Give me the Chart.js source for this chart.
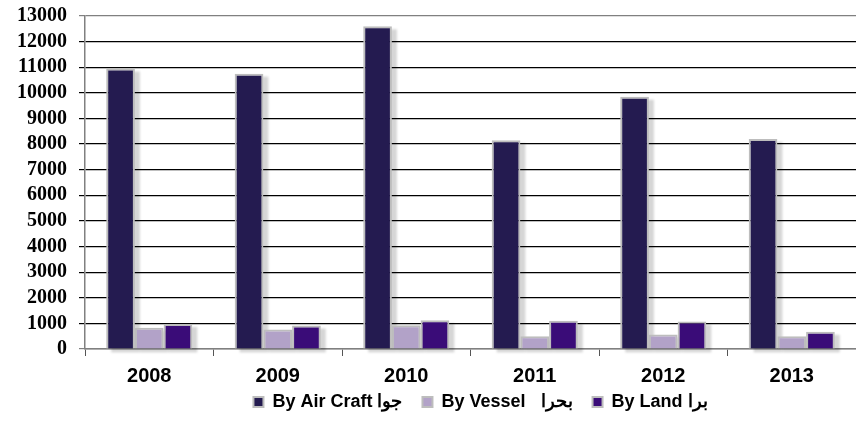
<!DOCTYPE html>
<html>
<head>
<meta charset="utf-8">
<script src="https://cdn.jsdelivr.net/npm/chart.js@4"></script>
<style>
  html, body { margin: 0; padding: 0; background: #fff; }
  #wrap { width: 856px; height: 424px; }
</style>
</head>
<body>
<div id="wrap"><canvas id="travelChart"></canvas></div>
<script>
'use strict';
var years = ['2008', '2009', '2010', '2011', '2012', '2013'];
var byAirCraft = [10950, 10750, 12600, 8150, 9850, 8200];
var byVessel = [830, 760, 930, 500, 570, 500];
var byLand = [980, 920, 1120, 1100, 1075, 670];
var seriesNames = ['By Air Craft جوا', 'By Vessel   بحرا', 'By Land برا'];
var yTicks = [0, 1000, 2000, 3000, 4000, 5000, 6000, 7000, 8000, 9000, 10000, 11000, 12000, 13000];

// soft grey shadow behind every bar, painted before the bars themselves
var barShadow = {
  id: 'barShadow',
  beforeDatasetsDraw: function (chart) {
    var c = chart.ctx;
    c.save();
    c.fillStyle = 'rgba(0,0,0,0.16)';
    c.filter = 'blur(1px)';
    chart.data.datasets.forEach(function (ds, i) {
      chart.getDatasetMeta(i).data.forEach(function (bar) {
        var w = bar.width;
        c.fillRect(bar.x - w / 2 + 5, bar.y + 3, w, bar.base - bar.y + 1);
      });
    });
    c.restore();
  },
  // legend sits roughly centred under the plot area and a bit higher up
  afterLayout: function (chart) {
    var lg = chart.legend;
    var shift = (chart.chartArea.left + chart.chartArea.right) / 2 - (lg.left + lg.right) / 2 + 10;
    lg.left += shift;
    lg.right += shift;
    lg.top -= 9;
    lg.bottom -= 9;
  }
};

var ctx = document.getElementById('travelChart').getContext('2d');
var chart = new Chart(ctx, {
  type: 'bar',
  data: {
    labels: years,
    datasets: [{
      label: seriesNames[0],
      data: byAirCraft,
      backgroundColor: '#241B50',
      borderColor: '#BDBDBD',
      borderWidth: 2
    }, {
      label: seriesNames[1],
      data: byVessel,
      backgroundColor: '#B2A2C8',
      borderColor: '#BDBDBD',
      borderWidth: 2
    }, {
      label: seriesNames[2],
      data: byLand,
      backgroundColor: '#3A0C78',
      borderColor: '#BDBDBD',
      borderWidth: 2
    }]
  },
  options: {
    responsive: true,
    maintainAspectRatio: false,
    animation: false,
    layout: { padding: { top: 0, right: 0, left: 0, bottom: -6 } },
    datasets: { bar: { categoryPercentage: 0.67, barPercentage: 1.0 } },
    plugins: {
      tooltip: { enabled: false },
      legend: {
        position: 'bottom',
        labels: {
          color: '#000',
          font: { family: 'Liberation Sans, Arial', size: 18, weight: 'bold' },
          boxWidth: 10,
          boxHeight: 10,
          padding: 20
        }
      }
    },
    scales: {
      x: {
        grid: { offset: true, drawOnChartArea: false, color: '#555', tickLength: 7 },
        border: { color: '#808080', width: 1.5 },
        ticks: {
          color: '#000',
          padding: 8,
          font: { family: 'Liberation Sans, Arial', size: 20, weight: 'bold' }
        },
        afterFit: function (scale) { scale.height = 33; }
      },
      y: {
        min: 0,
        max: 13000,
        afterBuildTicks: function (scale) {
          scale.ticks = yTicks.map(function (v) { return { value: v }; });
        },
        grid: {
          color: function (c) {
            return (c.tick && (c.tick.value === 13000 || c.tick.value === 0)) ? '#808080' : '#000';
          },
          lineWidth: 1.2,
          tickLength: 6
        },
        border: { color: '#808080', width: 1.5 },
        ticks: {
          color: '#000',
          padding: 12,
          autoSkip: false,
          callback: function (v) { return String(v); },
          font: { family: 'Liberation Serif, Times New Roman', size: 20, weight: 'bold' }
        },
        afterFit: function (scale) {
          scale.width = 85;
          scale.paddingTop = 16;
          scale.paddingBottom = 0;
        }
      }
    }
  },
  plugins: [barShadow]
});
</script>
</body>
</html>
